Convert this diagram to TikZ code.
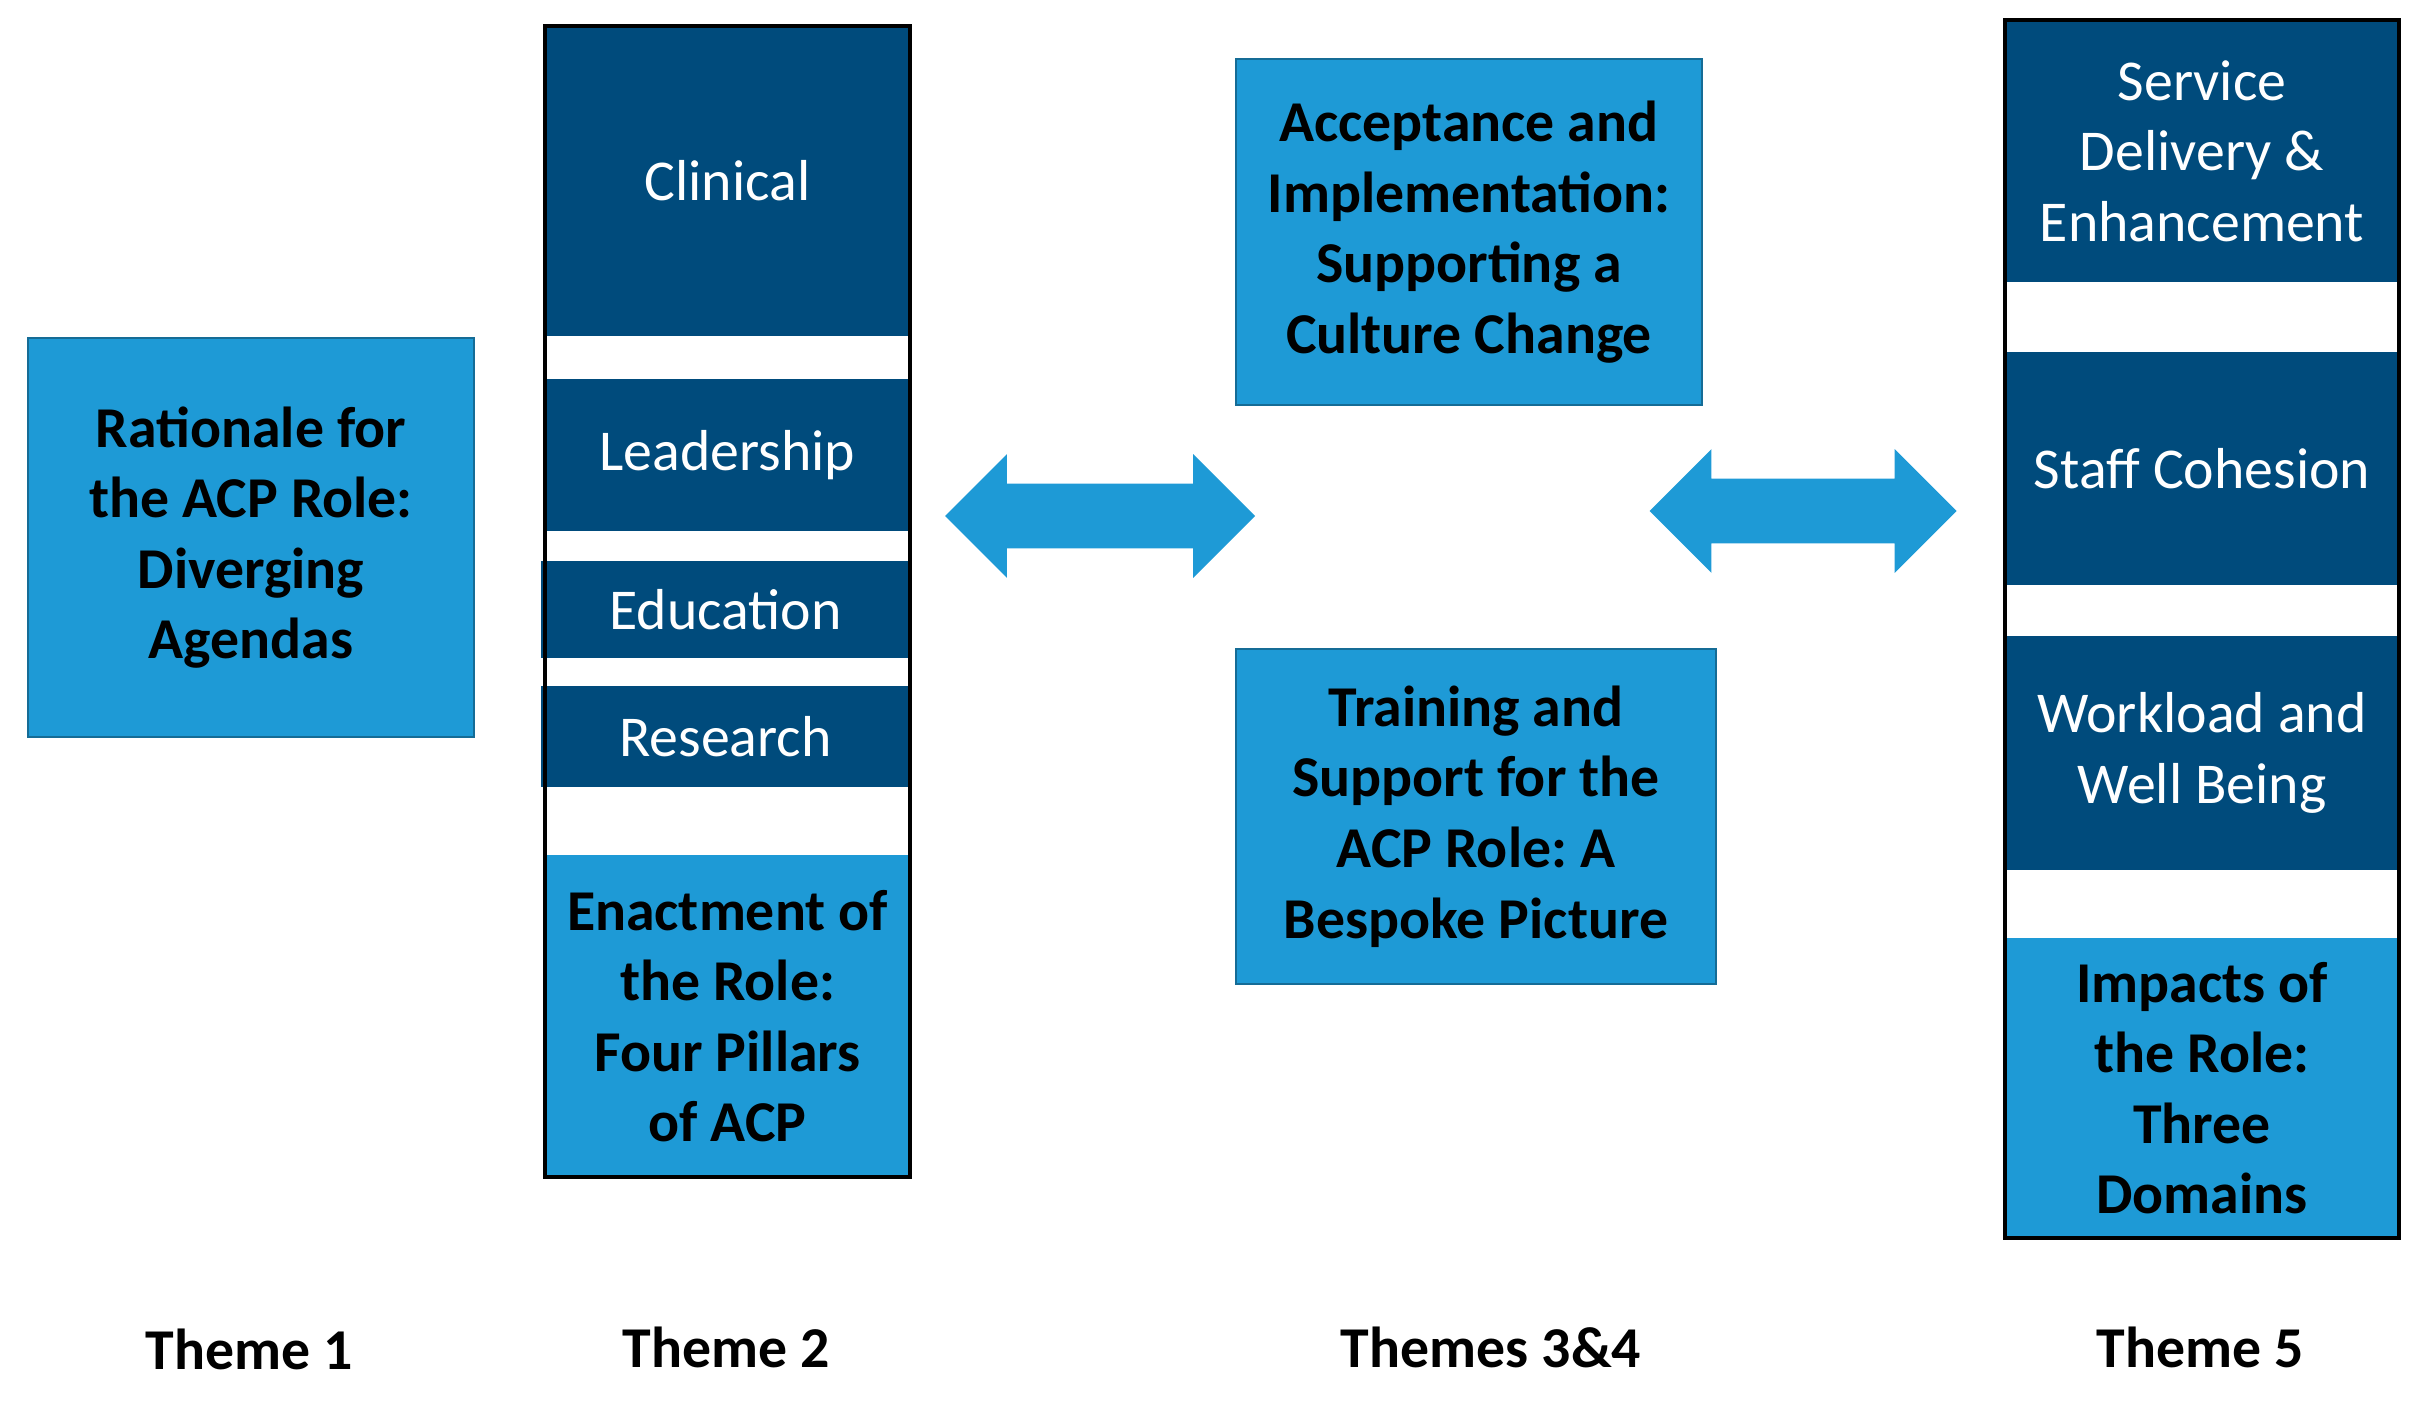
\documentclass[tikz,border=0pt]{standalone}
\usepackage{fontspec}
\setmainfont{Carlito}
\frenchspacing
\usetikzlibrary{shapes.arrows}
\definecolor{deepblue}{HTML}{004B7C}
\definecolor{skyblue}{HTML}{1E9AD6}

\begin{document}
\begin{tikzpicture}[x=0.25bp, y=-0.25bp,
    every node/.style={font=\fontsize{14.5}{17.7}\selectfont},
    cell/.style={rectangle, inner sep=0pt, outer sep=0pt, align=center, anchor=north west},
    darkcell/.style={cell, fill=deepblue, text=white},
    lightcell/.style={cell, fill=skyblue, draw=skyblue!70!black, line width=0.4bp,
      font=\fontsize{14.5}{17.7}\selectfont\bfseries},
    frame/.style={cell, draw=black, line width=1bp},
    bigarrow/.style={double arrow, fill=skyblue, inner xsep=0pt, inner ysep=31.5*0.25bp, outer sep=0pt,
      double arrow head extend=29.5*0.25bp, double arrow tip angle=90},
    themelabel/.style={font=\fontsize{14.5}{17.7}\selectfont\bfseries}]
    \def\u{0.25bp} % one pixel of the reference
    \useasboundingbox (0,0) rectangle (2428,1405);

    % theme 1
    \node[lightcell, minimum width=446*\u, minimum height=399*\u] (rationale) at (28,338)
      {Rationale for\\the ACP Role:\\Diverging\\Agendas};

    % theme 2: the four pillars
    \node[darkcell, minimum width=365*\u, minimum height=310*\u] (clinical) at (545,26) {Clinical};
    \node[darkcell, minimum width=365*\u, minimum height=152*\u] (leadership) at (545,379) {Leadership};
    \node[darkcell, minimum width=369*\u, minimum height=97*\u] (education) at (541,561) {Education};
    \node[darkcell, minimum width=369*\u, minimum height=101*\u] (research) at (541,686) {Research};
    \node[lightcell, draw=none, minimum width=365*\u, minimum height=322*\u] (enactment) at (545,855)
      {Enactment of\\the Role:\\Four Pillars\\of ACP};
    \node[frame, minimum width=365*\u, minimum height=1151*\u] (col2) at (545,26) {};

    % themes 3 and 4
    \node[lightcell, minimum width=466*\u, minimum height=346*\u] (acceptance) at (1236,59)
      {Acceptance and\\Implementation:\\Supporting a\\Culture Change};
    \node[lightcell, minimum width=480*\u, minimum height=335*\u] (training) at (1236,649)
      {Training and\\Support for the\\ACP Role: A\\Bespoke Picture};

    % theme 5: three domains
    \node[darkcell, minimum width=394*\u, minimum height=262*\u] (service) at (2005,20)
      {Service\\Delivery \&\\Enhancement};
    \node[darkcell, minimum width=394*\u, minimum height=233*\u] (cohesion) at (2005,352) {Staff Cohesion};
    \node[darkcell, minimum width=394*\u, minimum height=234*\u] (workload) at (2005,636)
      {Workload and\\Well Being};
    \node[lightcell, draw=none, minimum width=394*\u, minimum height=300*\u] (impacts) at (2005,938)
      {Impacts of\\the Role:\\Three\\Domains};
    \node[frame, minimum width=394*\u, minimum height=1218*\u] (col5) at (2005,20) {};

    % double arrows
    \node[bigarrow, minimum height=310*\u] (arrowL) at (1100,516) {};
    \node[bigarrow, minimum height=307*\u] (arrowR) at (1803,511) {};

    % labels
    \node[themelabel] (t1) at (249,1349) {Theme 1};
    \node[themelabel] (t2) at (726,1347) {Theme 2};
    \node[themelabel] (t34) at (1491,1347) {Themes 3\&4};
    \node[themelabel] (t5) at (2200,1347) {Theme 5};
\end{tikzpicture}
\end{document}
